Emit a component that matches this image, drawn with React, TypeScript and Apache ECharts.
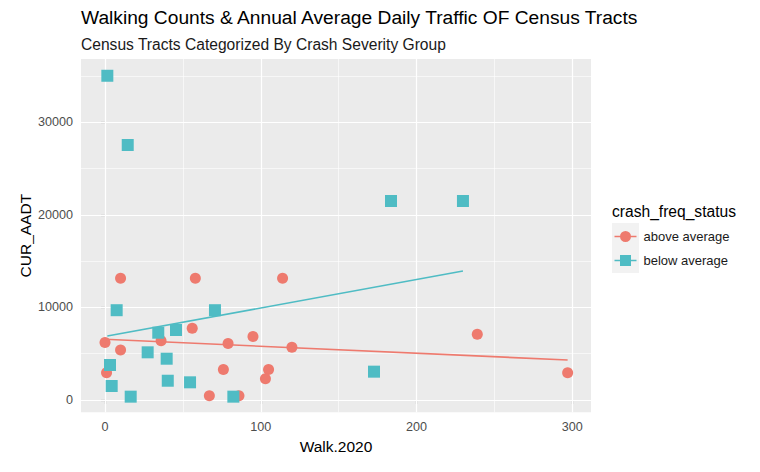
import React, { useEffect, useRef } from "react";
import * as echarts from "echarts";

const aboveWalk = [10, 58, 114, 56, 0, 10, 36, 79, 95, 120, 76, 105, 103, 1, 67, 86, 239, 297];
const aboveAADT = [13150, 13150, 13150, 7750, 6200, 5400, 6400, 6100, 6850, 5700, 3300, 3300, 2300, 2950, 450, 450, 7100, 2950];
const belowWalk = [7.5, 70.6, 34.2, 45.6, 27.4, 39.6, 3.2, 4.3, 16.5, 40.3, 54.6, 82.4, 1.5, 14.6, 183.6, 229.8, 172.7];
const belowAADT = [9700, 9700, 7270, 7560, 5150, 4460, 3780, 1510, 360, 2080, 1910, 360, 35030, 27550, 21500, 21500, 3060];
const aboveFitWalk = [0, 297];
const aboveFitAADT = [6560, 4320];
const belowFitWalk = [1.5, 229.8];
const belowFitAADT = [6910, 13940];
const xTicks = [0, 100, 200, 300];
const xMinor = [50, 150, 250];
const yTicks = [0, 10000, 20000, 30000];
const yMinor = [5000, 15000, 25000, 35000];
const groups = ["above average", "below average"];

const FONT = "'Liberation Sans', Arial, sans-serif";
const RED = "#EE7A6E";
const TEAL = "#4FBCC4";

const zip = (a: number[], b: number[]) => a.map((v, i) => [v, b[i]]);

const circleIcon =
  "path://M0,4.75 H22 V6.25 H0 Z M5.5,5.5 A5.5,5.5 0 1 1 16.5,5.5 A5.5,5.5 0 1 1 5.5,5.5 Z";
const squareIcon = "path://M0,4.75 H22 V6.25 H0 Z M5.5,0 H16.5 V11 H5.5 Z";

export default function App() {
  const ref = useRef<HTMLDivElement>(null);
  useEffect(() => {
    if (!ref.current) return;
    const chart = echarts.init(ref.current, undefined, { renderer: "svg" });
    const gridLines = (xs: number[], ys: number[], width: number) => ({
      type: "scatter",
      data: [],
      z: 1,
      silent: true,
      markLine: {
        silent: true,
        z: 1,
        symbol: ["none", "none"],
        label: { show: false },
        animation: false,
        lineStyle: { color: "#FFFFFF", width, type: "solid" },
        emphasis: { disabled: true },
        data: [...xs.map((v) => ({ xAxis: v })), ...ys.map((v) => ({ yAxis: v }))],
      },
    });
    chart.setOption({
      animation: false,
      textStyle: { fontFamily: FONT },
      title: [
        {
          text: "Walking Counts & Annual Average Daily Traffic OF Census Tracts",
          left: 81,
          top: 8,
          padding: 0,
          textStyle: { fontSize: 19.2, fontWeight: "normal", color: "#000", fontFamily: FONT },
        },
        {
          text: "Census Tracts Categorized By Crash Severity Group",
          left: 81,
          top: 36,
          padding: 0,
          textStyle: { fontSize: 15.6, fontWeight: "normal", color: "#1A1A1A", fontFamily: FONT },
        },
      ],
      grid: {
        left: 81,
        top: 59,
        width: 510,
        height: 353.3,
        show: true,
        backgroundColor: "#EBEBEB",
        borderWidth: 0,
      },
      legend: {
        orient: "vertical",
        left: 614.5,
        top: 230,
        padding: 0,
        itemWidth: 22,
        itemHeight: 11,
        itemGap: 11,
        selectedMode: false,
        data: [
          { name: groups[0], icon: circleIcon },
          { name: groups[1], icon: squareIcon },
        ],
        textStyle: { fontSize: 13, color: "#1A1A1A", fontFamily: FONT, padding: [0, 0, 0, 2] },
      },
      graphic: [
        {
          type: "rect",
          shape: { x: 612, y: 223, width: 27, height: 50 },
          style: { fill: "#F2F2F2" },
          z: -1,
          silent: true,
        },
        {
          type: "text",
          x: 612,
          y: 211,
          style: {
            text: "crash_freq_status",
            fill: "#000",
            font: `15.6px ${FONT}`,
            verticalAlign: "middle",
          },
        },
      ],
      xAxis: {
        type: "value",
        min: -15.4,
        max: 312,
        splitLine: { show: false },
        axisLine: { show: false },
        axisTick: { show: true, customValues: xTicks, length: 4, lineStyle: { color: "#333333", width: 1.1 } },
        axisLabel: {
          customValues: xTicks,
          color: "#4D4D4D",
          fontSize: 12.6,
          margin: 8,
          fontFamily: FONT,
          formatter: (v: number) => String(v),
        },
        name: "Walk.2020",
        nameLocation: "middle",
        nameGap: 26,
        nameTextStyle: { fontSize: 15.5, color: "#000", fontFamily: FONT },
      },
      yAxis: {
        type: "value",
        min: -1330,
        max: 36840,
        splitLine: { show: false },
        axisLine: { show: false },
        axisTick: { show: true, customValues: yTicks, length: 4, lineStyle: { color: "#333333", width: 1.1 } },
        axisLabel: {
          customValues: yTicks,
          color: "#4D4D4D",
          fontSize: 12.6,
          margin: 8,
          fontFamily: FONT,
          formatter: (v: number) => String(v),
        },
        name: "CUR_AADT",
        nameLocation: "middle",
        nameMoveOverlap: false,
        nameGap: 48,
        nameRotate: 90,
        nameTextStyle: { fontSize: 15.5, color: "#000", fontFamily: FONT },
      },
      series: [
        gridLines(xMinor, yMinor, 0.6),
        gridLines(xTicks, yTicks, 1.2),
        {
          name: groups[0],
          type: "scatter",
          symbol: "circle",
          symbolSize: 11,
          z: 3,
          itemStyle: { color: RED, opacity: 1 },
          data: zip(aboveWalk, aboveAADT),
        },
        {
          name: groups[1],
          type: "scatter",
          symbol: "rect",
          symbolSize: 12,
          z: 3,
          itemStyle: { color: TEAL, opacity: 1 },
          data: zip(belowWalk, belowAADT),
        },
        {
          name: groups[0],
          type: "line",
          showSymbol: false,
          symbol: "none",
          z: 4,
          lineStyle: { color: RED, width: 1.6 },
          itemStyle: { color: RED },
          data: zip(aboveFitWalk, aboveFitAADT),
        },
        {
          name: groups[1],
          type: "line",
          showSymbol: false,
          symbol: "none",
          z: 4,
          lineStyle: { color: TEAL, width: 1.6 },
          itemStyle: { color: TEAL },
          data: zip(belowFitWalk, belowFitAADT),
        },
      ],
    });
    return () => chart.dispose();
  }, []);
  return (
    <div
      ref={ref}
      style={{ position: "absolute", left: 0, top: 0, width: 760, height: 472, background: "#FFFFFF" }}
    />
  );
}
